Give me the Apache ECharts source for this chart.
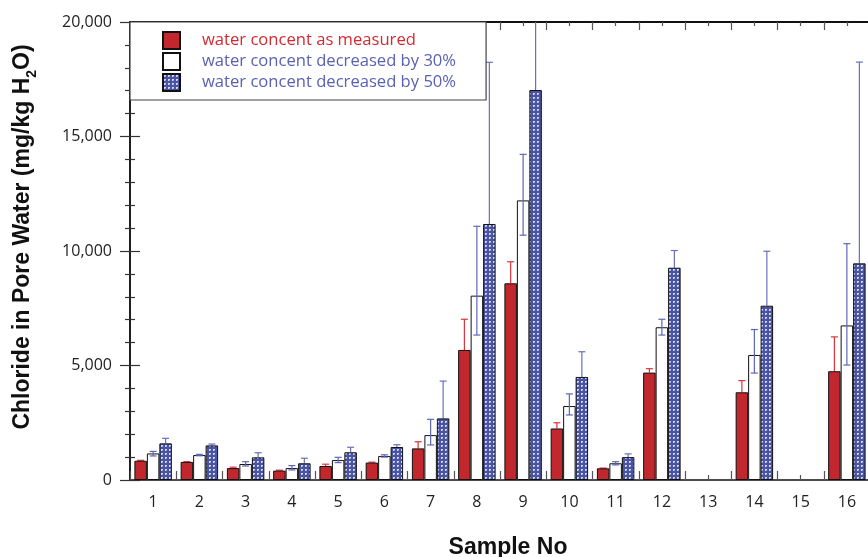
<!DOCTYPE html>
<html>
<head>
<meta charset="utf-8">
<script src="https://cdn.jsdelivr.net/npm/echarts@6/dist/echarts.min.js"></script>
<style>
html,body{margin:0;padding:0;background:#fff;}
#chart{width:868px;height:557px;}
</style>
</head>
<body>
<div id="chart"></div>
<script>
// ---- data ----
const samples = ['1','2','3','4','5','6','7','8','9','10','11','12','13','14','15','16'];
const seriesNames = ['water concent as measured','water concent decreased by 30%','water concent decreased by 50%'];
const measured      = [840, 790, 520, 410, 610, 760, 1380, 5680, 8590, 2250, 510, 4690, null, 3830, null, 4750];
const measuredHigh  = [860, 800, 560, 430, 690, 780, 1670, 7020, 9530, 2500, 520, 4860, null, 4340, null, 6250];
const dec30         = [1160, 1090, 700, 520, 870, 1050, 1960, 8050, 12210, 3230, 730, 6670, null, 5460, null, 6750];
const dec30Low      = [1050, 1060, 610, 440, 760, 1000, 1530, 6330, 10690, 2840, 660, 6330, null, 4670, null, 5020];
const dec30High     = [1250, 1120, 800, 630, 990, 1100, 2650, 11080, 14220, 3760, 800, 7020, null, 6570, null, 10320];
const dec50         = [1600, 1510, 990, 730, 1210, 1440, 2690, 11180, 17030, 4500, 1000, 9270, null, 7610, null, 9460];
const dec50High     = [1820, 1570, 1190, 950, 1430, 1540, 4320, 18240, 21500, 5600, 1140, 10020, null, 9990, null, 18250];
const yTicks = [0, 5000, 10000, 15000, 20000];

const CAT_GAP = 0.19;

function makePattern(){
  const c = document.createElement('canvas');
  c.width = 4; c.height = 4;
  const g = c.getContext('2d');
  g.fillStyle = '#4a54a5'; g.fillRect(0,0,4,4);
  g.fillStyle = '#d4d8f0'; g.fillRect(1,1,2,1); g.fillRect(1,2,1,1);
  g.fillStyle = '#8f96cc'; g.fillRect(2,2,1,1);
  return c;
}
const blueFill = {image: makePattern(), repeat: 'repeat'};

function errData(low, high){
  const out = [];
  samples.forEach((s,i)=>{ if(high[i]!=null) out.push([i, low[i], high[i]]); });
  return out;
}
function errSeries(k, low, high, color, both){
  return {
    type:'custom', name:'err'+k, xAxisIndex:0, yAxisIndex:0, z: both?5:1, clip:true,
    silent:true,
    data: errData(low, high),
    encode:{x:0, y:[1,2]},
    renderItem: function(params, api){
      const i = api.value(0), yl = api.value(1), yh = api.value(2);
      const bw = api.size([1,0])[0];
      const barW = bw*(1-CAT_GAP)/3;
      const pl = api.coord([i, yl]), ph = api.coord([i, yh]);
      const x = pl[0] + (k-1)*barW;
      const st = {stroke: color, lineWidth: 1.2};
      const ch = [
        {type:'line', shape:{x1:x,y1:pl[1],x2:x,y2:ph[1]}, style:st},
        {type:'line', shape:{x1:x-3.5,y1:ph[1],x2:x+3.5,y2:ph[1]}, style:st}
      ];
      if(both) ch.push({type:'line', shape:{x1:x-3.5,y1:pl[1],x2:x+3.5,y2:pl[1]}, style:st});
      return {type:'group', children:ch};
    }
  };
}

const chart = echarts.init(document.getElementById('chart'), null, {renderer:'canvas'});
const tickAxis = (pos, len, minorLen, showLine) => ({
  type:'value', min:0, max:16, interval:1, position:pos, gridIndex:0,
  axisLine:{show:showLine, lineStyle:{color:'#111', width:2}},
  axisLabel:{show:false},
  axisTick:{show:true, inside:true, length:len, lineStyle:{color:'#555', width:1.2}},
  minorTick:{show:true, splitNumber:2, length:minorLen, lineStyle:{color:'#555', width:1.2}},
  splitLine:{show:false}
});
const yAx = (pos, showLabel) => ({
  type:'value', min:0, max:20000, interval:5000, position:pos,
  axisLine:{show:true, lineStyle:{color:'#111', width:1.5}},
  axisTick:{show:true, inside:true, length:10, lineStyle:{color:'#333', width:1.2}},
  minorTick:{show:true, splitNumber:5, length:5, lineStyle:{color:'#333', width:1.2}},
  splitLine:{show:false},
  axisLabel:{show:showLabel, margin:18, fontSize:16, color:'#222', fontFamily:'Open Sans',
    formatter: v => yTicks.indexOf(v)>=0 ? v.toLocaleString('en-US') : ''}
});

const option = {
  animation:false,
  backgroundColor:'#fff',
  grid:{left:130, right:-2, top:22, bottom:77, containLabel:false, outerBoundsMode:'none'},
  legend:{
    orient:'vertical', left:130, top:22,
    padding:[9, 30, 8, 32], itemGap:2, itemWidth:17, itemHeight:17,
    backgroundColor:'#fff', borderColor:'#444', borderWidth:1.2, borderRadius:0,
    icon:'rect',
    textStyle:{fontSize:16.6, lineHeight:17, fontFamily:'Open Sans', padding:[0,0,0,17]},
    data:[
      {name:seriesNames[0], textStyle:{color:'#d22a31'}},
      {name:seriesNames[1], textStyle:{color:'#5a62b2'}},
      {name:seriesNames[2], textStyle:{color:'#5a62b2'}}
    ]
  },
  xAxis:[
    {type:'category', data:samples, position:'bottom',
     axisLine:{show:true, lineStyle:{color:'#111', width:1.5}},
     axisTick:{show:false},
     axisLabel:{fontSize:16, color:'#222', fontFamily:'Open Sans', margin:14},
     name:'Sample No', nameLocation:'middle', nameGap:56,
     nameTextStyle:{fontSize:23, fontWeight:'bold', color:'#111', fontFamily:'Liberation Sans', padding:[0,0,0,16]}
    },
    tickAxis('bottom', 9, 5, false),
    tickAxis('top', 8, 4, true)
  ],
  yAxis:[
    Object.assign(yAx('left', true), {
      name:'{a|Chloride in Pore Water (mg/kg H}{s|2}{a|O)}', nameLocation:'middle', nameGap:96,
      nameTextStyle:{ padding:[0,0,0,28], rich:{
        a:{fontSize:23, fontWeight:'bold', color:'#111', fontFamily:'Liberation Sans', lineHeight:28, verticalAlign:'bottom'},
        s:{fontSize:14, fontWeight:'bold', color:'#111', fontFamily:'Liberation Sans', lineHeight:28, verticalAlign:'bottom', padding:[0,0,-5,0]}
      }}
    }),
    yAx('right', false)
  ],
  series:[
    {type:'bar', name:seriesNames[0], data:measured, barGap:'0%', barCategoryGap:(CAT_GAP*100)+'%', z:2,
     itemStyle:{color:'#c1272d', borderColor:'#111', borderWidth:1}},
    {type:'bar', name:seriesNames[1], data:dec30, barGap:'0%', barCategoryGap:(CAT_GAP*100)+'%', z:2,
     itemStyle:{color:'#ffffff', borderColor:'#111', borderWidth:1}},
    {type:'bar', name:seriesNames[2], data:dec50, barGap:'0%', barCategoryGap:(CAT_GAP*100)+'%', z:2,
     itemStyle:{color:blueFill, borderColor:'#111', borderWidth:1}},
    errSeries(0, measured, measuredHigh, '#d8343b', false),
    errSeries(1, dec30Low, dec30High, '#5e67b5', true),
    errSeries(2, dec50, dec50High, '#6870bb', false)
  ]
};
chart.setOption(option);
</script>
</body>
</html>
